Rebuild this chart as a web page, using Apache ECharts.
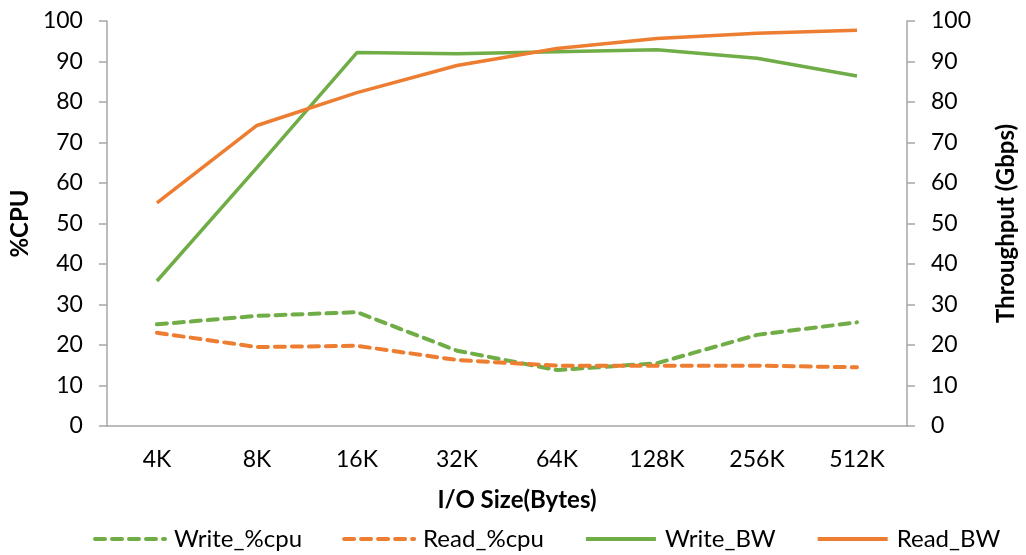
<!DOCTYPE html>
<html>
<head>
<meta charset="utf-8">
<script src="https://cdn.jsdelivr.net/npm/echarts@6/dist/echarts.min.js"></script>
<style>
  html, body { margin: 0; padding: 0; background: #fff; }
  #chart { width: 1026px; height: 555px; }
</style>
</head>
<body>
<div id="chart"></div>
<script>
const ioSizes = ['4K', '8K', '16K', '32K', '64K', '128K', '256K', '512K'];

const writeCpu = [25.1, 27.2, 28.1, 18.6, 13.8, 15.5, 22.5, 25.6];
const readCpu = [23.0, 19.5, 19.8, 16.3, 14.9, 14.9, 14.9, 14.5];
const writeBw = [35.8, 63.8, 92.2, 91.9, 92.4, 92.9, 90.8, 86.4];
const readBw = [55.1, 74.2, 82.3, 89.0, 93.2, 95.7, 97.0, 97.7];

const GREEN = '#70AD47';
const ORANGE = '#ED7D31';
const AXIS = '#A6A6A6';
const FONT = 'Lato';

function yAxis(name, position, gap) {
    return {
        type: 'value',
        name: name,
        position: position,
        nameLocation: 'middle',
        nameGap: gap,
        nameTextStyle: { fontFamily: FONT, fontSize: 24, fontWeight: 'bold', color: '#000' },
        min: 0, max: 100, interval: 10,
        axisLine: { show: true, lineStyle: { color: AXIS, width: 1.5 } },
        axisTick: { show: true, length: 8, lineStyle: { color: AXIS, width: 1.5 } },
        axisLabel: { margin: 24, fontFamily: FONT, fontSize: 23, color: '#000' },
        splitLine: { show: false }
    };
}

function lineSeries(name, data, color, dashed, axisIdx) {
    return {
        name: name,
        type: 'line',
        yAxisIndex: axisIdx,
        data: data,
        symbol: 'none',
        lineStyle: dashed
            ? { color: color, width: 4, type: [10, 7], cap: 'round' }
            : { color: color, width: 3.5, type: 'solid' },
        itemStyle: { color: color }
    };
}

const chart = echarts.init(document.getElementById('chart'));
chart.setOption({
    animation: false,
    grid: { left: 95, right: 101, top: 21, bottom: 129 },
    legend: {
        bottom: -1,
        left: 88,
        itemWidth: 70,
        itemHeight: 14,
        itemGap: 40,
        itemStyle: { opacity: 0 },
        lineStyle: { width: 4 },
        textStyle: { fontFamily: FONT, fontSize: 24, color: '#000', padding: [0, 0, 0, 4] },
        data: ['Write_%cpu', 'Read_%cpu', 'Write_BW', 'Read_BW']
    },
    xAxis: {
        type: 'category',
        data: ioSizes,
        name: 'I/O Size(Bytes)',
        nameLocation: 'middle',
        nameGap: 62,
        nameTextStyle: { fontFamily: FONT, fontSize: 24, fontWeight: 'bold', color: '#000', padding: [0, 0, 0, 20] },
        axisLine: { lineStyle: { color: AXIS, width: 1.5 } },
        axisTick: { alignWithLabel: true, length: 8, lineStyle: { color: AXIS, width: 1.5 } },
        axisLabel: { margin: 22, fontFamily: FONT, fontSize: 23, color: '#000' }
    },
    yAxis: [
        yAxis('%CPU', 'left', 60),
        yAxis('Throughput (Gbps)', 'right', 87)
    ],
    series: [
        lineSeries('Write_%cpu', writeCpu, GREEN, true, 0),
        lineSeries('Read_%cpu', readCpu, ORANGE, true, 0),
        lineSeries('Write_BW', writeBw, GREEN, false, 1),
        lineSeries('Read_BW', readBw, ORANGE, false, 1)
    ]
});
</script>
</body>
</html>
